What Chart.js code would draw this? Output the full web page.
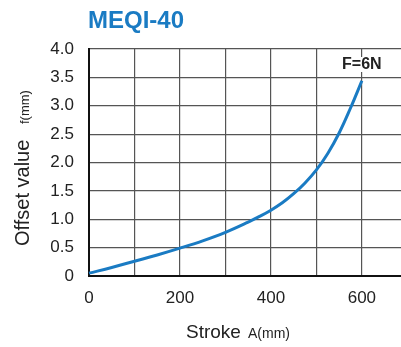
<!DOCTYPE html>
<html lang="en">
<head>
  <meta charset="UTF-8" />
  <title>MEQI-40</title>
  <script src="https://cdn.jsdelivr.net/npm/chart.js"></script>
  <style>
    html, body { margin: 0; padding: 0; background: #fff; }
    #wrap { position: relative; width: 401px; height: 347px; }
  </style>
</head>
<body>
  <div id="wrap"><canvas id="chart"></canvas></div>

  <script>
    // stroke A (mm) vs offset value f (mm), F = 6N
    const strokes = [0, 50, 100, 150, 200, 250, 300, 350, 375, 400, 425, 450, 475, 500, 525, 550, 575, 600];
    const offsets = [0.05, 0.15, 0.26, 0.37, 0.49, 0.62, 0.77, 0.95, 1.05, 1.16, 1.29, 1.45, 1.64, 1.87, 2.16, 2.52, 2.96, 3.44];
    const xTicks = [0, 100, 200, 300, 400, 500, 600];
    const yTicks = [0, 0.5, 1, 1.5, 2, 2.5, 3, 3.5, 4];

    const blue = "#1a7bc3";
    const font = "'Liberation Sans', Arial, sans-serif";

    const textPlugin = {
      id: "texts",
      afterDraw(chart) {
        const c = chart.ctx;
        const xs = chart.scales.x;
        c.save();
        // title
        c.fillStyle = blue;
        c.font = "bold 24px " + font;
        c.textBaseline = "middle";
        c.textAlign = "left";
        c.fillText("MEQI-40", 88, 21);

        // load label
        c.font = "bold 16px " + font;
        c.textAlign = "center";
        const lx = xs.getPixelForValue(600);
        const w = c.measureText("F=6N").width;
        c.fillStyle = "#fff";
        c.fillRect(lx - w / 2 - 2, 57, w + 4, 15);
        c.fillStyle = "#222";
        c.fillText("F=6N", lx, 65);

        // x axis title
        c.textAlign = "left";
        c.textBaseline = "alphabetic";
        c.font = "19px " + font;
        c.fillText("Stroke", 186, 338);
        c.font = "14px " + font;
        c.fillText("A(mm)", 248, 338);

        // y axis title
        c.translate(29, 0);
        c.rotate(-Math.PI / 2);
        c.font = "20px " + font;
        c.fillText("Offset value", -246, 0);
        c.font = "13px " + font;
        c.fillText("f(mm)", -124, 0);
        c.restore();
      }
    };

    new Chart(document.getElementById("chart"), {
      type: "line",
      data: {
        datasets: [{
          label: "F=6N",
          data: strokes.map((s, i) => ({ x: s, y: offsets[i] })),
          borderColor: blue,
          borderWidth: 3,
          pointRadius: 0,
          tension: 0.4,
          fill: false,
          clip: false
        }]
      },
      options: {
        responsive: true,
        maintainAspectRatio: false,
        animation: false,
        layout: { padding: { top: 49, right: 0, left: 0, bottom: 0 } },
        plugins: { legend: { display: false }, tooltip: { enabled: false } },
        scales: {
          x: {
            type: "linear",
            min: 0,
            max: 686,
            afterBuildTicks: (s) => { s.ticks = xTicks.map(v => ({ value: v })); },
            afterFit: (s) => { s.height = 71; },
            grid: { color: "#555", lineWidth: 1.2, drawTicks: false },
            border: { color: "#111", width: 2 },
            ticks: {
              padding: 12,
              color: "#222",
              font: { family: font, size: 17 },
              maxRotation: 0,
              callback: (v) => (v % 200 === 0 ? String(v) : "")
            }
          },
          y: {
            min: 0,
            max: 4,
            afterBuildTicks: (s) => { s.ticks = yTicks.map(v => ({ value: v })); },
            afterFit: (s) => { s.width = 89; },
            grid: { color: "#555", lineWidth: 1.2, drawTicks: false },
            border: { color: "#111", width: 2 },
            ticks: {
              padding: 15,
              color: "#222",
              font: { family: font, size: 17 },
              callback: (v) => (v === 0 ? "0" : v.toFixed(1))
            }
          }
        }
      },
      plugins: [textPlugin]
    });
  </script>
</body>
</html>
